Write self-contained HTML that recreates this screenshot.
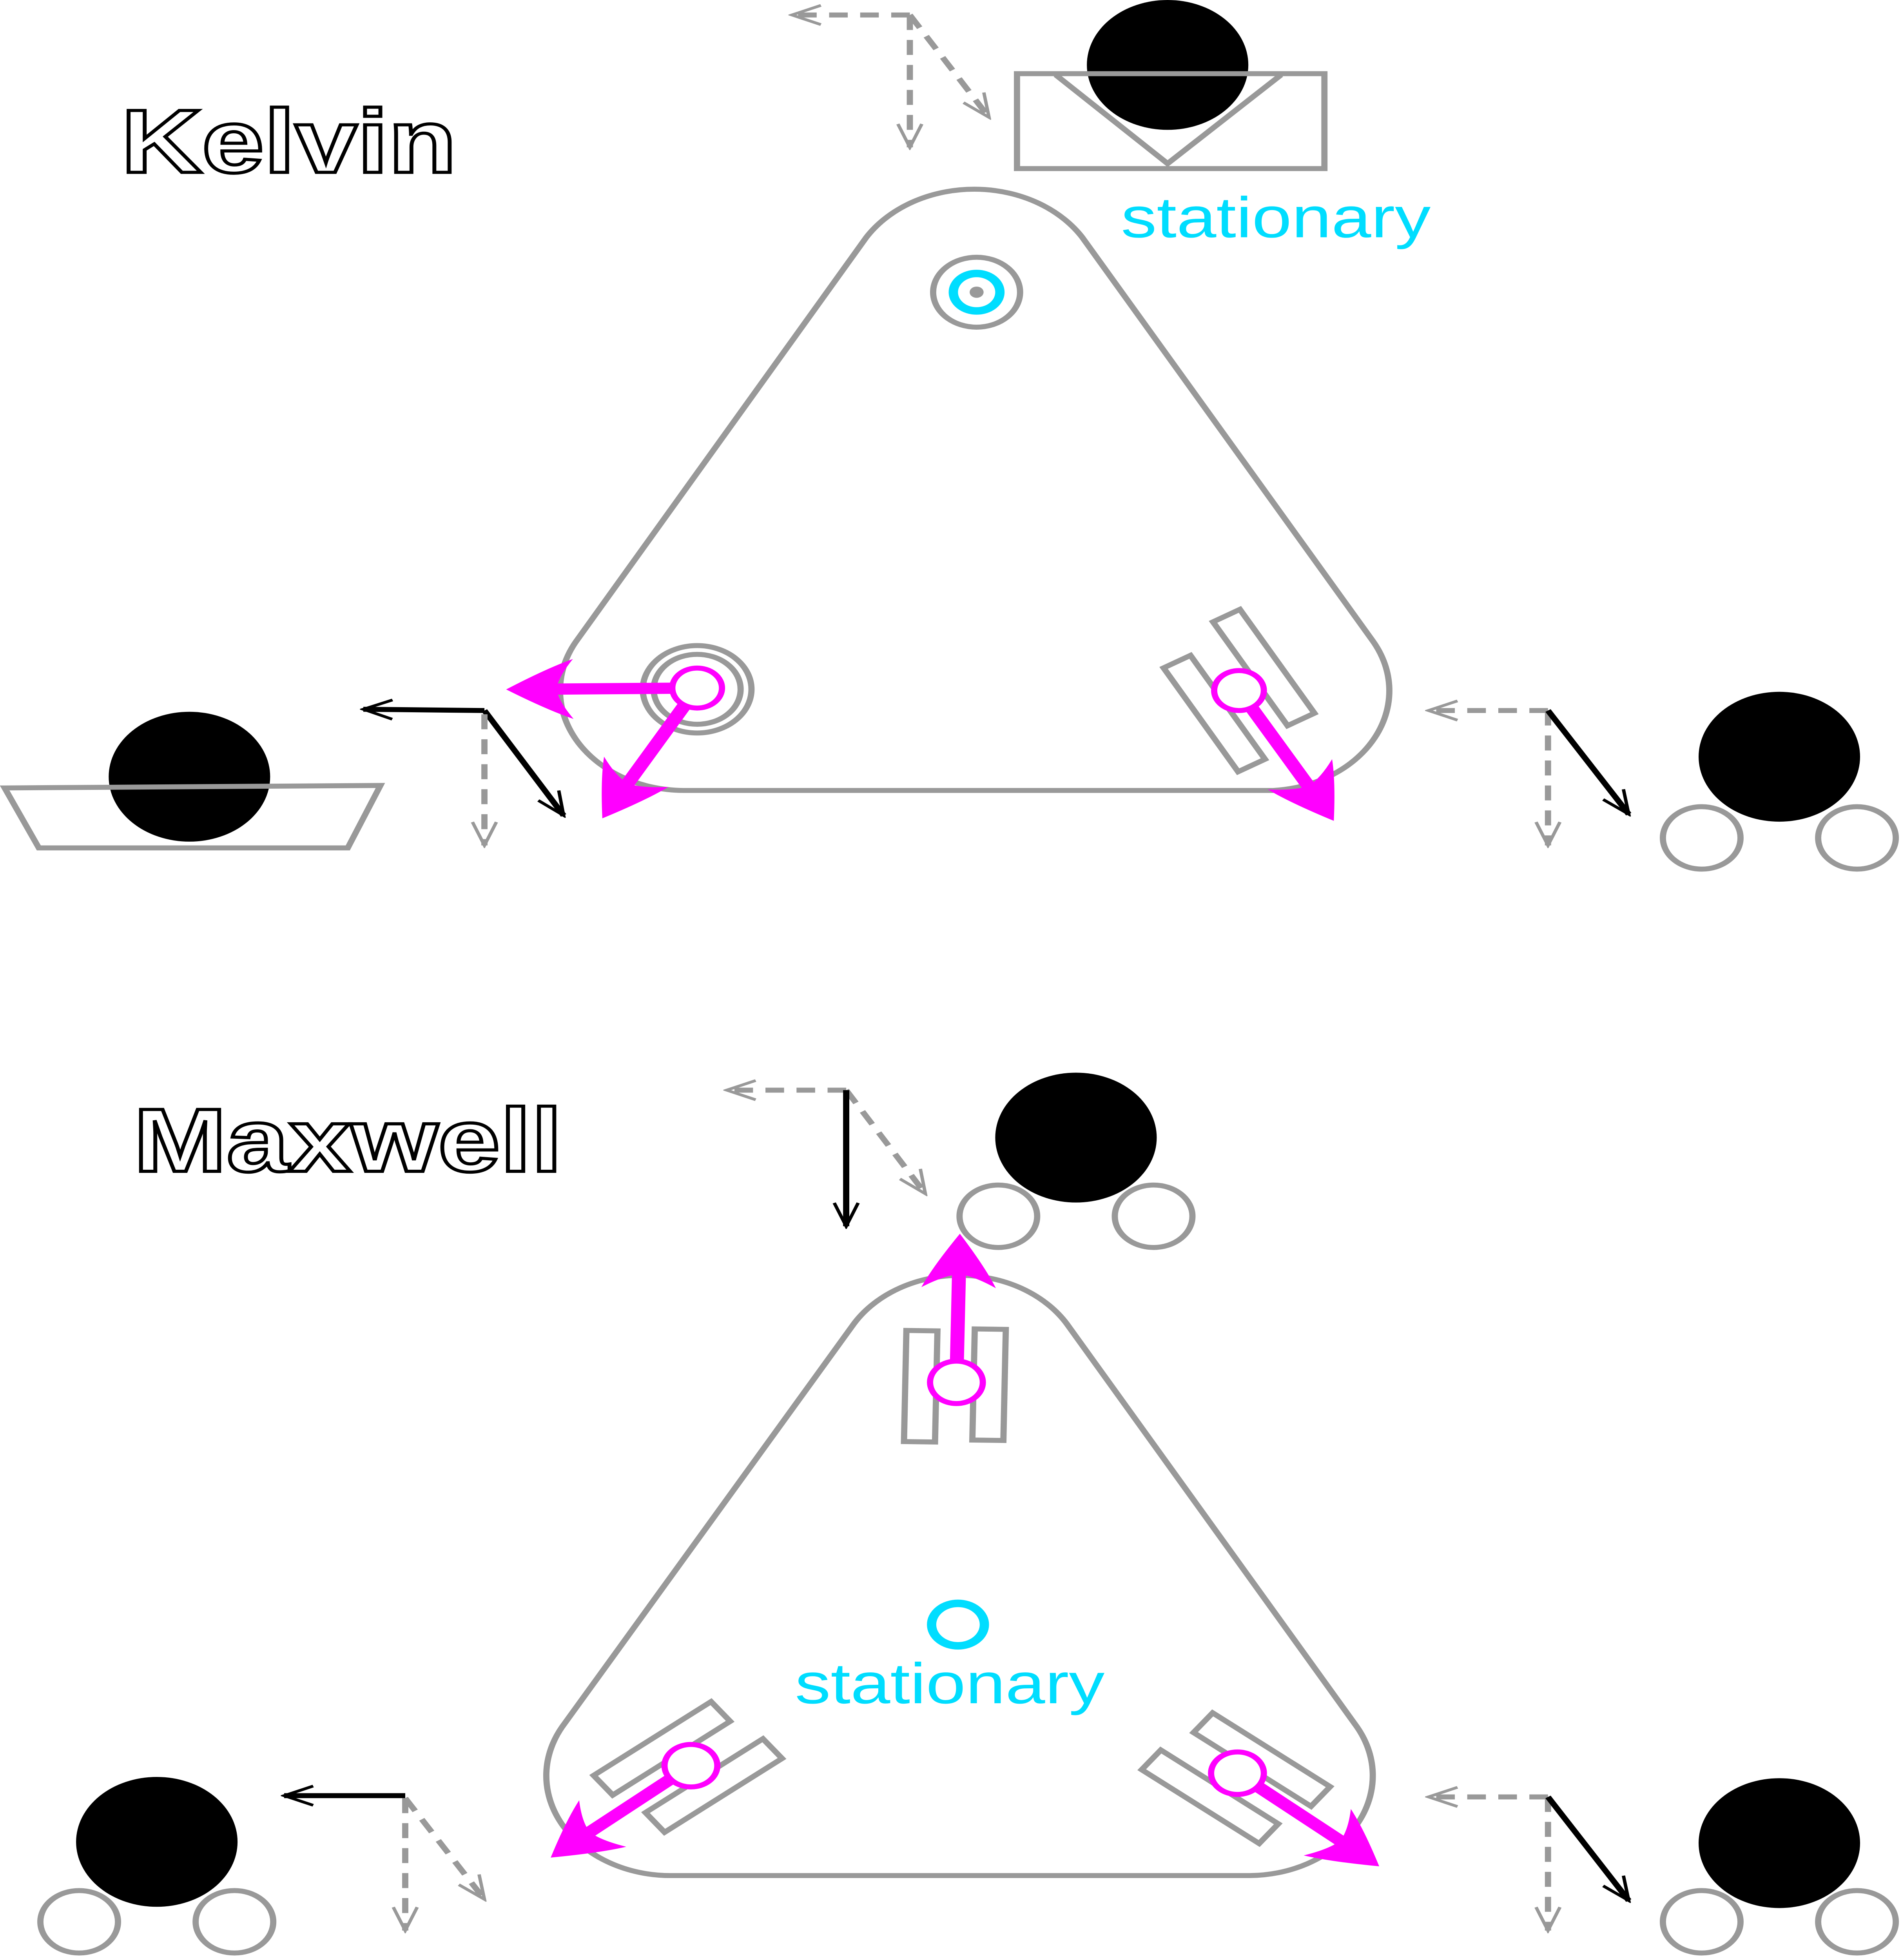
<!DOCTYPE html>
<html><head><meta charset="utf-8"><style>
html,body{margin:0;padding:0;background:#fff;overflow:hidden;width:100vw;height:100vh;}
svg{display:block;position:absolute;left:0;top:0;width:100vw;height:100vh;}
text{font-family:"Liberation Sans","DejaVu Sans",sans-serif;}
</style></head><body>
<svg viewBox="0 0 1225 1569.6" preserveAspectRatio="none" xmlns="http://www.w3.org/2000/svg">
<defs>
<marker id="mag" viewBox="0 0 40 40" refX="30" refY="20" markerWidth="48" markerHeight="48" markerUnits="userSpaceOnUse" orient="auto">
<path d="M40 20 Q18 6 4 0 Q12 12 13 20 Q12 28 4 40 Q18 34 40 20Z" fill="#ff00ff"/>
</marker>
<marker id="open" viewBox="0 0 20 20" refX="18" refY="10" markerWidth="22" markerHeight="22" markerUnits="userSpaceOnUse" orient="auto">
<path d="M1 3 L18 10 L1 17" fill="none" stroke="#999" stroke-width="2"/>
</marker>
<marker id="openb" viewBox="0 0 20 20" refX="18" refY="10" markerWidth="22" markerHeight="22" markerUnits="userSpaceOnUse" orient="auto">
<path d="M1 3 L18 10 L1 17" fill="none" stroke="#000" stroke-width="2"/>
</marker>
</defs>
<g fill="none" stroke="#999" stroke-width="4">
<path d="M558 190 A82 82 0 0 1 697 190 L884 513 A80 80 0 0 1 820 633 L440 633 A80 80 0 0 1 372 512 Z"/>
<path d="M550 1060 A80 80 0 0 1 687 1060 L874 1383 A80 80 0 0 1 805 1502 L432 1502 A80 80 0 0 1 362 1383 Z"/>
</g>
<text x="78" y="138" font-size="72" font-weight="bold" fill="#fff" stroke="#000" stroke-width="2.5">Kelvin</text>
<text x="86" y="938" font-size="72" font-weight="bold" fill="#fff" stroke="#000" stroke-width="2.5">Maxwell</text>
<text x="722" y="190" font-size="46" fill="#00ddff">stationary</text>
<text x="512" y="1364" font-size="46" fill="#00ddff">stationary</text>

<g>
<circle cx="752" cy="52" r="52" fill="#000"/>
<rect x="655" y="59" width="198" height="76" fill="none" stroke="#999" stroke-width="4"/>
<path d="M680 60 L752 131 L825 60" fill="none" stroke="#999" stroke-width="4"/>
</g>
<g>
<circle cx="629" cy="234" r="28" fill="none" stroke="#999" stroke-width="4"/>
<circle cx="629" cy="234" r="15" fill="none" stroke="#00ddff" stroke-width="6"/>
<circle cx="629" cy="234" r="4.5" fill="#999"/>
</g>
<g>
<circle cx="122" cy="622" r="52" fill="#000"/>
<path d="M3 631 L245 629 L224 679 L25 679 Z" fill="none" stroke="#999" stroke-width="4"/>
</g>
<g>
<circle cx="449" cy="552" r="35" fill="none" stroke="#999" stroke-width="4"/>
<circle cx="449" cy="552" r="28" fill="none" stroke="#999" stroke-width="4"/>
<line x1="449" y1="551" x2="338" y2="552" stroke="#ff00ff" stroke-width="9" marker-end="url(#mag)"/>
<line x1="449" y1="551" x2="394" y2="645" stroke="#ff00ff" stroke-width="9" marker-end="url(#mag)"/>
<circle cx="449" cy="551" r="16" fill="#fff" stroke="#ff00ff" stroke-width="4"/>
</g>
<g>
<g transform="translate(798,553) rotate(-30)" fill="none" stroke="#999" stroke-width="4">
<rect x="-33" y="-40" width="20" height="96"/>
<rect x="13" y="-56" width="20" height="96"/>
</g>
<line x1="798" y1="553" x2="853" y2="647" stroke="#ff00ff" stroke-width="9" marker-end="url(#mag)"/>
<circle cx="798" cy="553" r="16" fill="#fff" stroke="#ff00ff" stroke-width="4"/>
</g>
<g>
<circle cx="1146" cy="606" r="52" fill="#000"/>
<circle cx="1096" cy="671" r="25" fill="none" stroke="#999" stroke-width="4"/>
<circle cx="1196" cy="671" r="25" fill="none" stroke="#999" stroke-width="4"/>
</g>

<g stroke-width="4" fill="none">
<g stroke="#999" stroke-dasharray="12,8">
<line x1="586" y1="12" x2="510" y2="12" marker-end="url(#open)"/>
<line x1="586" y1="12" x2="586" y2="118" marker-end="url(#open)"/>
<line x1="586" y1="12" x2="637" y2="94" marker-end="url(#open)"/>
</g>
<g>
<line x1="312" y1="569" x2="234" y2="568" stroke="#000" marker-end="url(#openb)"/>
<line x1="312" y1="569" x2="363" y2="653" stroke="#000" marker-end="url(#openb)"/>
<line x1="312" y1="572" x2="312" y2="677" stroke="#999" stroke-dasharray="12,8" marker-end="url(#open)"/>
</g>
<g>
<line x1="997" y1="569" x2="920" y2="569" stroke="#999" stroke-dasharray="12,8" marker-end="url(#open)"/>
<line x1="997" y1="569" x2="997" y2="677" stroke="#999" stroke-dasharray="12,8" marker-end="url(#open)"/>
<line x1="997" y1="569" x2="1049" y2="652" stroke="#000" marker-end="url(#openb)"/>
</g>
<g>
<line x1="545" y1="873" x2="468" y2="873" stroke="#999" stroke-dasharray="12,8" marker-end="url(#open)"/>
<line x1="545" y1="873" x2="596" y2="956" stroke="#999" stroke-dasharray="12,8" marker-end="url(#open)"/>
<line x1="545" y1="873" x2="545" y2="982" stroke="#000" marker-end="url(#openb)"/>
</g>
<g>
<line x1="261" y1="1438" x2="183" y2="1438" stroke="#000" marker-end="url(#openb)"/>
<line x1="261" y1="1440" x2="261" y2="1546" stroke="#999" stroke-dasharray="12,8" marker-end="url(#open)"/>
<line x1="261" y1="1440" x2="312" y2="1521" stroke="#999" stroke-dasharray="12,8" marker-end="url(#open)"/>
</g>
<g>
<line x1="997" y1="1439" x2="920" y2="1439" stroke="#999" stroke-dasharray="12,8" marker-end="url(#open)"/>
<line x1="997" y1="1439" x2="997" y2="1546" stroke="#999" stroke-dasharray="12,8" marker-end="url(#open)"/>
<line x1="997" y1="1439" x2="1049" y2="1522" stroke="#000" marker-end="url(#openb)"/>
</g>
</g>

<g>
<circle cx="693" cy="911" r="52" fill="#000"/>
<circle cx="643" cy="974" r="25" fill="none" stroke="#999" stroke-width="4"/>
<circle cx="743" cy="974" r="25" fill="none" stroke="#999" stroke-width="4"/>
</g>
<g>
<g transform="translate(615,1110) rotate(1)" fill="none" stroke="#999" stroke-width="4">
<rect x="-32" y="-44" width="20" height="89"/>
<rect x="12" y="-46" width="20" height="89"/>
</g>
<line x1="616" y1="1107" x2="618" y2="1000" stroke="#ff00ff" stroke-width="9" marker-end="url(#mag)"/>
<circle cx="616" cy="1107" r="17" fill="#fff" stroke="#ff00ff" stroke-width="4"/>
</g>
<circle cx="617" cy="1301" r="17" fill="none" stroke="#00ddff" stroke-width="6"/>
<g>
<g transform="translate(443,1415) rotate(-38)" fill="none" stroke="#999" stroke-width="4">
<rect x="-52" y="-32" width="96" height="20"/>
<rect x="-44" y="12" width="96" height="20"/>
</g>
<line x1="445" y1="1414" x2="364" y2="1480" stroke="#ff00ff" stroke-width="9" marker-end="url(#mag)"/>
<circle cx="445" cy="1414" r="17" fill="#fff" stroke="#ff00ff" stroke-width="4"/>
</g>
<g>
<g transform="translate(796,1424) rotate(38)" fill="none" stroke="#999" stroke-width="4">
<rect x="-44" y="-32" width="96" height="20"/>
<rect x="-52" y="12" width="96" height="20"/>
</g>
<line x1="797" y1="1420" x2="879" y2="1487" stroke="#ff00ff" stroke-width="9" marker-end="url(#mag)"/>
<circle cx="797" cy="1420" r="17" fill="#fff" stroke="#ff00ff" stroke-width="4"/>
</g>
<g>
<circle cx="101" cy="1475" r="52" fill="#000"/>
<circle cx="51" cy="1539" r="25" fill="none" stroke="#999" stroke-width="4"/>
<circle cx="151" cy="1539" r="25" fill="none" stroke="#999" stroke-width="4"/>
</g>
<g>
<circle cx="1146" cy="1476" r="52" fill="#000"/>
<circle cx="1096" cy="1539" r="25" fill="none" stroke="#999" stroke-width="4"/>
<circle cx="1196" cy="1539" r="25" fill="none" stroke="#999" stroke-width="4"/>
</g>
</svg>
</body></html>
